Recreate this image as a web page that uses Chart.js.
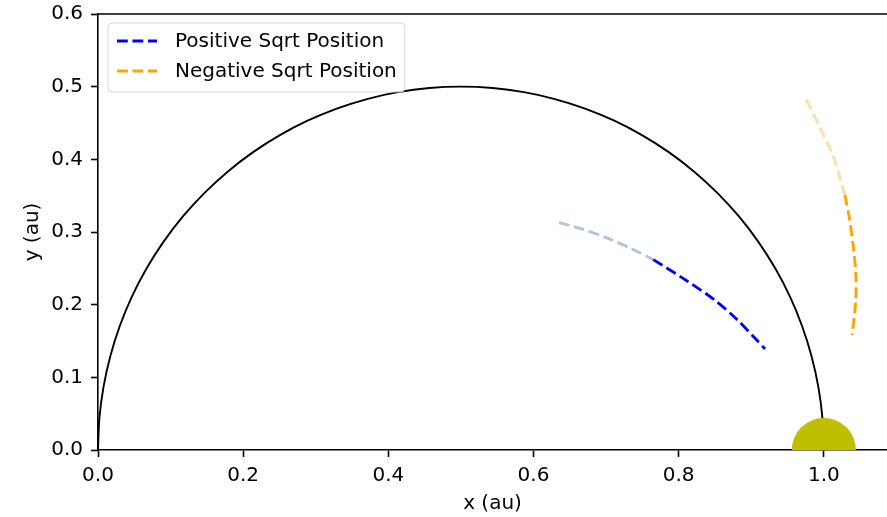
<!DOCTYPE html>
<html lang="en">
<head>
<meta charset="UTF-8">
<title>Sqrt positions</title>
<script src="https://cdn.jsdelivr.net/npm/chart.js"></script>
<style>
    html, body { margin: 0; padding: 0; background: #fff; }
    #wrap { width: 887px; height: 517px; }
</style>
</head>
<body>
<div id="wrap"><canvas id="grafico"></canvas></div>
<script>
// orbit semicircle (centre 0.5, radius 0.5), every 5 degrees
const circleX = [1.0, 0.99810, 0.99240, 0.98296, 0.96985, 0.95315, 0.93301, 0.90958, 0.88302, 0.85355,
    0.82139, 0.78679, 0.75, 0.71131, 0.67101, 0.62941, 0.58682, 0.54358, 0.5,
    0.45642, 0.41318, 0.37059, 0.32899, 0.28869, 0.25, 0.21321, 0.17861, 0.14645,
    0.11698, 0.09042, 0.06699, 0.04685, 0.03015, 0.01704, 0.00760, 0.00190, 0.0];
const circleY = [0.0, 0.04358, 0.08682, 0.12941, 0.17101, 0.21131, 0.25, 0.28679, 0.32139, 0.35355,
    0.38302, 0.40958, 0.43301, 0.45315, 0.46985, 0.48296, 0.49240, 0.49810, 0.5,
    0.49810, 0.49240, 0.48296, 0.46985, 0.45315, 0.43301, 0.40958, 0.38302, 0.35355,
    0.32139, 0.28679, 0.25, 0.21131, 0.17101, 0.12941, 0.08682, 0.04358, 0.0];

// positive sqrt track (faded older part, then recent part)
const posFadeX = [0.635, 0.664, 0.701, 0.733, 0.765];
const posFadeY = [0.313, 0.305, 0.292, 0.278, 0.262];
const posX = [0.765, 0.811, 0.850, 0.880, 0.905, 0.919];
const posY = [0.262, 0.233, 0.206, 0.180, 0.154, 0.139];

// negative sqrt track
const negFadeX = [0.976, 0.994, 1.013, 1.029];
const negFadeY = [0.482, 0.445, 0.404, 0.351];
const negX = [1.029, 1.035, 1.040, 1.044, 1.044, 1.039];
const negY = [0.351, 0.320, 0.284, 0.243, 0.206, 0.158];

// the sun
const sunX = [1.0];
const sunY = [0.0];

const xTicks = [0.0, 0.2, 0.4, 0.6, 0.8, 1.0];
const yTicks = [0.0, 0.1, 0.2, 0.3, 0.4, 0.5, 0.6];

function pares(xs, ys) {
    return xs.map((x, i) => ({ x: x, y: ys[i] }));
}

const fonte = { family: 'DejaVu Sans', size: 20 };
const tracejado = [10.8, 4.7];

// top spine + legend inside the plot
const extras = {
    id: 'extras',
    afterDraw(chart) {
        const ctx = chart.ctx;
        const area = chart.chartArea;
        ctx.save();
        ctx.strokeStyle = '#000';
        ctx.lineWidth = 1.6;
        ctx.beginPath();
        ctx.moveTo(area.left, area.top);
        ctx.lineTo(area.right, area.top);
        ctx.stroke();

        const itens = chart.data.datasets.filter(d => d.legenda);
        ctx.font = '20px "DejaVu Sans"';
        let maior = 0;
        itens.forEach(d => { maior = Math.max(maior, ctx.measureText(d.label).width); });
        const bx = area.left + 10, by = area.top + 9;
        const bw = 9 + 40 + 18 + maior + 8, bh = 69;
        ctx.fillStyle = 'rgba(255,255,255,0.8)';
        ctx.strokeStyle = 'rgba(204,204,204,0.8)';
        ctx.lineWidth = 1;
        ctx.beginPath();
        ctx.roundRect(bx, by, bw, bh, 4);
        ctx.fill();
        ctx.stroke();

        itens.forEach((d, i) => {
            const ly = by + 18 + i * 30;
            ctx.strokeStyle = d.borderColor;
            ctx.lineWidth = 2.9;
            ctx.setLineDash(tracejado);
            ctx.beginPath();
            ctx.moveTo(bx + 9, ly);
            ctx.lineTo(bx + 49, ly);
            ctx.stroke();
            ctx.setLineDash([]);
            ctx.fillStyle = '#000';
            ctx.textBaseline = 'middle';
            ctx.fillText(d.label, bx + 67, ly + 1);
        });
        ctx.restore();
    }
};

var grafico = document.getElementById('grafico');
new Chart(grafico, {
    type: 'scatter',
    data: {
        datasets: [
            {
                label: 'Sun',
                data: pares(sunX, sunY),
                pointRadius: 32,
                pointBackgroundColor: '#bfbf00',
                pointBorderWidth: 0,
                clip: 0
            },
            {
                label: 'Positive Sqrt Position',
                legenda: true,
                data: pares(posX, posY),
                showLine: true,
                borderColor: '#0000ff',
                borderWidth: 2.9,
                borderDash: tracejado,
                pointRadius: 0,
                tension: 0.3
            },
            {
                label: 'Negative Sqrt Position',
                legenda: true,
                data: pares(negX, negY),
                showLine: true,
                borderColor: '#ffa500',
                borderWidth: 2.9,
                borderDash: tracejado,
                pointRadius: 0,
                tension: 0.3
            },
            {
                label: 'pos faded',
                data: pares(posFadeX, posFadeY),
                showLine: true,
                borderColor: '#b0c4de',
                borderWidth: 2.9,
                borderDash: tracejado,
                pointRadius: 0,
                tension: 0.3
            },
            {
                label: 'neg faded',
                data: pares(negFadeX, negFadeY),
                showLine: true,
                borderColor: '#ffdcaa',
                borderWidth: 2.9,
                borderDash: tracejado,
                pointRadius: 0,
                tension: 0.3
            },
            {
                label: 'orbit',
                data: pares(circleX, circleY),
                showLine: true,
                borderColor: '#000',
                borderWidth: 1.9,
                pointRadius: 0,
                tension: 0.3
            }
        ]
    },
    options: {
        responsive: true,
        maintainAspectRatio: false,
        animation: false,
        events: [],
        layout: { autoPadding: false, padding: { top: 14, right: 0, left: 0, bottom: 0 } },
        plugins: {
            legend: { display: false },
            tooltip: { enabled: false }
        },
        scales: {
            x: {
                type: 'linear',
                min: 0,
                max: 1.087,
                afterBuildTicks: (s) => { s.ticks = xTicks.map(v => ({ value: v })); },
                afterFit: (s) => { s.height = 67; s.paddingLeft = 0; s.paddingRight = 0; },
                ticks: {
                    color: '#000',
                    font: fonte,
                    padding: 7,
                    maxRotation: 0,
                    callback: (v) => Number(v).toFixed(1)
                },
                grid: { drawOnChartArea: false, tickLength: 7, tickWidth: 1.6, tickColor: '#000' },
                border: { color: '#000', width: 1.6 },
                title: { display: true, text: 'x (au)', color: '#000', font: fonte, padding: { top: 0, bottom: 1 } }
            },
            y: {
                type: 'linear',
                min: 0,
                max: 0.6,
                afterBuildTicks: (s) => { s.ticks = yTicks.map(v => ({ value: v })); },
                afterFit: (s) => { s.width = 98; s.paddingTop = 0; s.paddingBottom = 0; },
                ticks: {
                    color: '#000',
                    font: fonte,
                    padding: 8,
                    callback: (v) => Number(v).toFixed(1)
                },
                grid: { drawOnChartArea: false, tickLength: 7, tickWidth: 1.6, tickColor: '#000' },
                border: { color: '#000', width: 1.6 },
                title: { display: true, text: 'y (au)', color: '#000', font: fonte, padding: { top: 21 } }
            }
        }
    },
    plugins: [extras]
});
</script>
</body>
</html>
